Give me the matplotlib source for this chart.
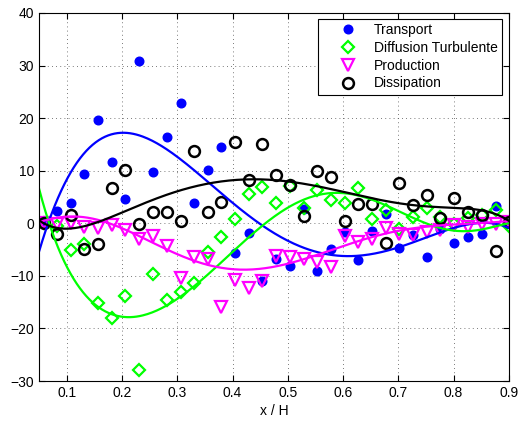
#!/usr/bin/env python3

import numpy as np
import matplotlib
matplotlib.use("Agg")
import matplotlib.pyplot as plt

plt.rcParams['font.family'] = ['Liberation Sans', 'DejaVu Sans']

# x positions of the measured points
x_pts = [0.058, 0.083, 0.107, 0.132, 0.157, 0.182, 0.206, 0.231, 0.256, 0.281,
         0.306, 0.330, 0.355, 0.380, 0.405, 0.429, 0.454, 0.479, 0.504, 0.529,
         0.553, 0.578, 0.603, 0.628, 0.653, 0.677, 0.702, 0.727, 0.752, 0.776,
         0.801, 0.826, 0.851, 0.876, 0.900]

transport = [0.5, 2.3, 3.8, 9.3, 19.6, 11.6, 4.6, 30.9, 9.7, 16.5,
             22.9, 3.8, 10.2, 14.5, -5.6, -1.8, -11.0, -6.8, -8.1, 2.8,
             -9.0, -4.8, -1.6, -6.9, -1.5, 1.8, -4.7, -2.2, -6.5, -1.0,
             -3.8, -2.6, -2.1, 3.3, 0.0]
diffusion = [0.0, -0.5, -5.1, -4.0, -15.1, -18.1, -13.8, -28.0, -9.6, -14.6,
             -13.1, -11.3, -5.4, -2.7, 0.9, 5.5, 6.9, 3.9, 7.0, 3.0,
             6.3, 4.4, 3.8, 6.8, 0.8, 2.5, -1.0, 1.2, 2.9, 1.2,
             -0.1, 1.0, 1.5, 2.6, -0.5]
production = [0.0, -0.1, 0.0, -0.8, -0.9, -0.4, -1.3, -2.9, -2.5, -4.3,
              -10.4, -6.4, -6.8, -15.9, -10.8, -12.3, -11.0, -6.3, -6.5, -6.8,
              -7.3, -8.3, -2.5, -3.6, -3.0, -0.9, -2.0, -2.3, -1.6, -1.3,
              -0.4, -0.8, -0.1, -0.1, 0.2]
dissipation = [0.0, -2.0, 1.5, -4.9, -3.9, 6.8, 10.2, -0.1, 2.1, 2.1,
               0.5, 13.7, 2.2, 4.0, 15.5, 8.2, 15.0, 9.1, 7.3, 1.3,
               10.0, 8.8, 0.5, 3.7, 3.7, -3.7, 7.7, 3.4, 5.4, 1.0,
               4.9, 2.1, 1.6, -5.3, 0.2]

# fitted curves, read at a few positions
xc_blue = [0.0517, 0.070, 0.093, 0.124, 0.165, 0.208, 0.2555, 0.298, 0.359, 0.407,
           0.455, 0.504, 0.545, 0.576, 0.618, 0.661, 0.702, 0.751, 0.7925, 0.847, 0.899]
yc_blue = [-4.5, 0.6, 6.9, 12.6, 16.3, 17.0, 15.7, 12.6, 8.1, 3.1,
           -1.0, -3.2, -5.1, -5.8, -6.4, -5.9, -4.5, -2.6, -1.0, -0.1, -0.8]

xc_green = [0.0517, 0.070, 0.093, 0.124, 0.160, 0.202, 0.244, 0.286, 0.335, 0.383,
            0.425, 0.455, 0.485, 0.528, 0.570, 0.618, 0.667, 0.715, 0.763, 0.799,
            0.835, 0.871, 0.899]
yc_green = [5.7, 0.0, -7.0, -12.7, -16.2, -17.4, -17.1, -15.2, -12.1, -7.6,
            -3.2, -0.1, 2.8, 4.7, 5.3, 5.0, 3.7, 1.8, -0.1, -1.3,
            -1.6, -1.0, 0.2]

xc_mag = [0.0517, 0.081, 0.112, 0.154, 0.190, 0.232, 0.274, 0.316, 0.358, 0.407,
          0.455, 0.510, 0.570, 0.630, 0.691, 0.751, 0.811, 0.899]
yc_mag = [0.2, 1.1, 1.4, 0.7, -0.7, -2.6, -4.5, -6.3, -7.9, -9.0,
          -8.9, -7.2, -5.3, -3.3, -1.7, -0.7, -0.1, 0.4]

xc_black = [0.0517, 0.070, 0.093, 0.124, 0.154, 0.190, 0.232, 0.274, 0.316, 0.358,
            0.407, 0.455, 0.500, 0.551, 0.591, 0.634, 0.691, 0.751, 0.811, 0.870, 0.899]
yc_black = [0.6, -0.7, -1.2, -0.7, 0.2, 1.8, 3.6, 5.0, 6.3, 7.5,
            8.3, 8.7, 8.2, 6.8, 5.9, 5.3, 4.0, 3.4, 2.8, 1.9, 0.6]

x_ticks = [0.1, 0.2, 0.3, 0.4, 0.5, 0.6, 0.7, 0.8, 0.9]
y_ticks = [-30, -20, -10, 0, 10, 20, 30, 40]


def smooth(xs, ys, deg=7):
    # smooth curve through the read-off samples
    xs = np.asarray(xs)
    p = np.polyfit(xs, ys, deg)
    xf = np.linspace(0.05, 0.9, 300)
    return xf, np.polyval(p, xf)


fig = plt.figure(figsize=(5.18, 4.23), dpi=100)
ax = fig.add_axes([39.1 / 518, 42 / 423, 469.7 / 518, 368 / 423])

ax.plot(x_pts, transport, 'o', color='b', ms=6.2, mec='b', label='Transport')
ax.plot(x_pts, diffusion, 'D', color=(0, 1, 0), ms=6, mfc='none', mew=1.6,
        label='Diffusion Turbulente')
ax.plot(x_pts, production, 'v', color=(1, 0, 1), ms=8, mfc='none', mew=1.6,
        label='Production')
ax.plot(x_pts, dissipation, 'o', color='k', ms=7.8, mfc='none', mew=1.8,
        label='Dissipation')

for xs, ys, c in [(xc_blue, yc_blue, 'b'), (xc_green, yc_green, (0, 1, 0)),
                  (xc_mag, yc_mag, (1, 0, 1)), (xc_black, yc_black, 'k')]:
    xf, yf = smooth(xs, ys)
    ax.plot(xf, yf, '-', color=c, lw=1.6)

ax.set_xlim(0.05, 0.9)
ax.set_ylim(-30, 40)
ax.set_xticks(x_ticks)
ax.set_xticklabels([str(t) for t in x_ticks])
ax.set_yticks(y_ticks)
ax.tick_params(direction='in', top=True, right=True, length=4, labelsize=10)
ax.grid(True, color='0.3', linestyle=(0, (1, 4)), linewidth=0.6)
for s in ax.spines.values():
    s.set_linewidth(0.8)
ax.set_xlabel('x / H', fontsize=10, labelpad=3)

leg = ax.legend(loc='upper right', fontsize=10, fancybox=False, framealpha=1,
                edgecolor='k', handlelength=3.6, borderpad=0.3,
                labelspacing=0.27, handletextpad=0.1, borderaxespad=0,
                bbox_to_anchor=(0.9855, 0.9837))
leg.get_frame().set_linewidth(0.8)

fig.savefig('out.png', dpi=100)
